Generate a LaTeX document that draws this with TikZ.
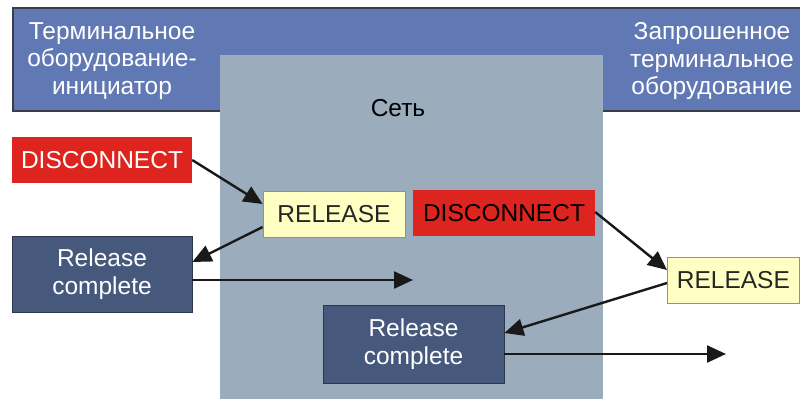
\documentclass[tikz,border=0pt]{standalone}
\usepackage{fontspec}
\setmainfont{Liberation Sans}
\usetikzlibrary{arrows.meta}
\definecolor{bandblue}{RGB}{96,121,180}
\definecolor{bandedge}{RGB}{60,60,70}
\definecolor{netgray}{RGB}{155,172,189}
\definecolor{msgred}{RGB}{222,36,30}
\definecolor{msgyellow}{RGB}{255,255,196}
\definecolor{yellowedge}{RGB}{150,150,110}
\definecolor{rcblue}{RGB}{70,88,123}
\definecolor{rcedge}{RGB}{45,55,75}
\begin{document}
\begin{tikzpicture}[x=1pt,y=-1pt,
  txt/.style={font=\fontsize{24.5}{27.5}\selectfont},
  msg/.style={txt, rectangle, inner sep=0pt, minimum height=46},
  redwhite/.style={msg, fill=msgred, text=white},
  redblack/.style={msg, fill=msgred, text=black},
  relbox/.style={msg, fill=msgyellow, draw=yellowedge, line width=0.8, text=black!85},
  rcbox/.style={txt, rectangle, inner sep=0pt, fill=rcblue, draw=rcedge, line width=0.8,
    text=white, align=center},
  title/.style={txt, text=white, align=center},
  flow/.style={-{Triangle[length=19, width=17]}, line width=2.4, black!90}]
\useasboundingbox (0,0) rectangle (800,399);
\fill[white] (0,0) rectangle (800,399);
% upper band with the two terminal labels
\begin{scope}
\clip (0,0) rectangle (800,399);
\draw[fill=bandblue, draw=bandedge, line width=1.2] (13,8) rectangle (812,111);
\end{scope}
\node[title] (initiator) at (112,61) {Терминальное\\оборудование-\\инициатор};
\node[title] (called) at (712,61) {Запрошенное\\терминальное\\оборудование};
% network area
\fill[netgray] (220,55) rectangle (603,399);
\node[txt, text=black] (net) at (398,108) {Сеть};
% messages
\node[redwhite, minimum width=180] (disc1) at (102,160) {DISCONNECT};
\node[relbox, minimum width=142] (rel1) at (334,214) {RELEASE};
\node[redblack, minimum width=182] (disc2) at (504,213) {DISCONNECT};
\node[rcbox, minimum width=180, minimum height=76] (rc1) at (102,274) {Release\\complete};
\node[relbox, minimum width=132, anchor=west] (rel2) at (667,280) {RELEASE};
\node[rcbox, minimum width=181, minimum height=78] (rc2) at (413.5,344) {Release\\complete};
\coordinate (end1) at (413,280);
\coordinate (end2) at (726,354);
% connectors
\draw[flow] (disc1.east |- 0,160) -- (rel1.west |- 0,204);
\draw[flow] (rel1.west |- 0,227) -- (rc1.east |- 0,262);
\draw[flow] (rc1.east |- end1) -- (end1);
\draw[flow] (disc2.east |- 0,212) -- (rel2.west |- 0,270);
\draw[flow] (rel2.west |- 0,283) -- (rc2.east |- 0,333);
\draw[flow] (rc2.east |- end2) -- (end2);
\end{tikzpicture}
\end{document}
